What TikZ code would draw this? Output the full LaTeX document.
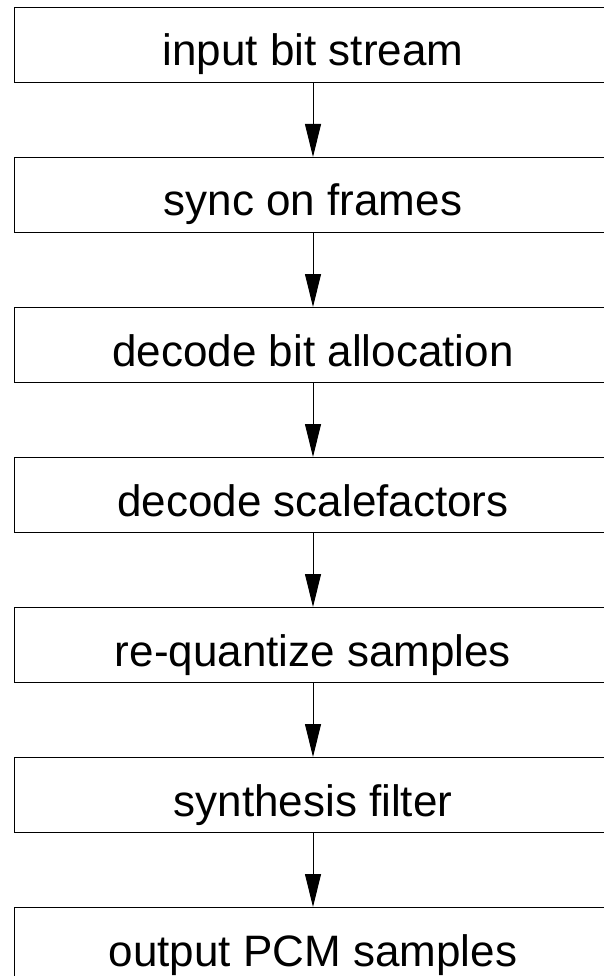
\documentclass[tikz,border=0pt]{standalone}
\usepackage{fontspec}
\setmainfont{Liberation Sans}
\usetikzlibrary{arrows.meta}
\begin{document}
\begin{tikzpicture}[x=1pt,y=-1pt,
  stepbox/.style={draw=black, line width=1pt, rectangle, minimum width=598pt, minimum height=75pt,
    inner sep=0pt, text height=42pt, text depth=0pt, font=\fontsize{44}{50}\selectfont},
  flow/.style={draw=black, line width=0.9pt, -{Triangle[length=33pt,width=16pt]}}]
\useasboundingbox (0,0) rectangle (603,976);
\fill[white] (0,0) rectangle (603,976);
\node[stepbox] (b1) at (313,45) {input bit stream};
\node[stepbox] (b2) at (313,195) {sync on frames};
\node[stepbox] (b3) at (313,345) {decode bit allocation};
\node[stepbox] (b4) at (313,495) {decode scalefactors};
\node[stepbox] (b5) at (313,645) {re-quantize samples};
\node[stepbox] (b6) at (313,795) {synthesis filter};
\node[stepbox] (b7) at (313,945) {output PCM samples};
\draw[flow] (b1) -- (b2);
\draw[flow] (b2) -- (b3);
\draw[flow] (b3) -- (b4);
\draw[flow] (b4) -- (b5);
\draw[flow] (b5) -- (b6);
\draw[flow] (b6) -- (b7);
\end{tikzpicture}
\end{document}
